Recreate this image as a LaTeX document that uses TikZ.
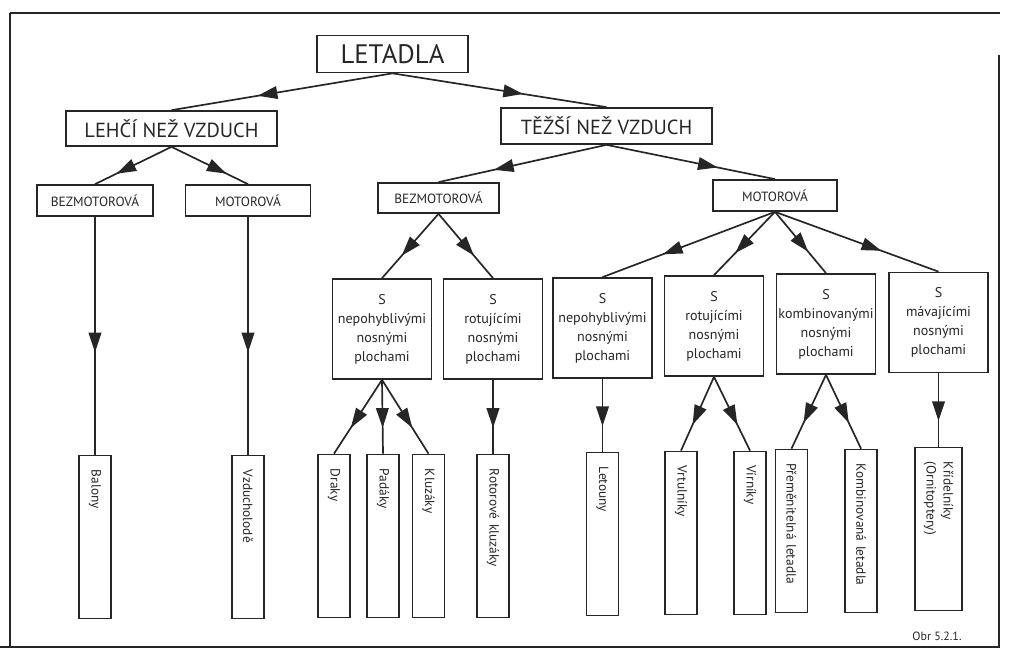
\documentclass[tikz,border=0pt]{standalone}
\usepackage{fontspec}
\setmainfont{PT Sans}
\usepackage{tikz}
\usetikzlibrary{arrows.meta}
\usetikzlibrary{decorations.markings}

\begin{document}
\begin{tikzpicture}[x=0.025cm,y=-0.025cm,color=black!85,line width=1.2pt,
  box/.style={draw,rectangle,inner sep=0pt},
  small/.style={box,minimum height=0.775cm,font=\fontsize{9.5}{11}\selectfont},
  plane/.style={box,align=center,minimum width=2.475cm,minimum height=2.5cm,font=\fontsize{10}{13.5}\selectfont},
  vbox/.style={box,rotate=-90,minimum width=4.075cm,minimum height=0.8cm,text width=3.35cm,inner xsep=0.3625cm,align=left,font=\fontsize{9.5}{12}\selectfont},
  arr/.style={decoration={markings,mark=at position #1 with {\arrow{Triangle[length=14pt,width=9pt]}}},postaction={decorate}},
  arr/.default=0.65]
\useasboundingbox (0,0) rectangle (1011,648);

%frame
\draw (10,13) -- (1000,13);
\draw (10,13) -- (10,648);
\draw (999,55) -- (999,648);
\draw (0,647) -- (999,647);

\node[box,minimum width=3.775cm,minimum height=0.925cm,font=\fontsize{19}{22}\selectfont] (letadla) at (392.5,54) {LETADLA};

\node[box,minimum width=5.275cm,minimum height=0.875cm,font=\fontsize{14.5}{17}\selectfont] (lehci) at (171.5,128.5) {LEHČÍ NEŽ VZDUCH};
\node[box,minimum width=5.275cm,minimum height=0.9cm,font=\fontsize{14.5}{17}\selectfont] (tezsi) at (606.5,126) {TĚŽŠÍ NEŽ VZDUCH};

\node[small,minimum width=2.9cm] (lbez) at (95,200.5) {BEZMOTOROVÁ};
\node[small,minimum width=3.125cm] (lmot) at (248,200.5) {MOTOROVÁ};
\node[small,minimum width=3.025cm,minimum height=0.75cm] (tbez) at (438.5,198) {BEZMOTOROVÁ};
\node[small,minimum width=3.1cm] (tmot) at (775,195.5) {MOTOROVÁ};

\node[plane] (bnep) at (382,329) {S\\nepohyblivými\\nosnými\\plochami};
\node[plane] (brot) at (493,329) {S\\rotujícími\\nosnými\\plochami};
\node[plane] (mnep) at (602.5,328) {S\\nepohyblivými\\nosnými\\plochami};
\node[plane] (mrot) at (714,326) {S\\rotujícími\\nosnými\\plochami};
\node[plane] (mkomb) at (826,324) {S\\kombinovanými\\nosnými\\plochami};
\node[plane] (mmav) at (938.5,322.5) {S\\mávajícími\\nosnými\\plochami};

\node[vbox] (balony) at (95,537) {Balony};
\node[vbox] (vzduch) at (248,537) {Vzducholodě};
\node[vbox] (draky) at (334,536) {Draky};
\node[vbox] (padaky) at (383,536) {Padáky};
\node[vbox] (kluzaky) at (428.5,536) {Kluzáky};
\node[vbox] (rotor) at (493,536) {Rotorové kluzáky};
\node[vbox] (letouny) at (602.5,534) {Letouny};
\node[vbox] (vrtul) at (681,533) {Vrtulníky};
\node[vbox] (virnik) at (750,533) {Vírníky};
\node[vbox] (premen) at (791.5,531) {Přeměnitelná letadla};
\node[vbox] (kombin) at (861,531) {Kombinovaná letadla};
\node[vbox,minimum height=1.175cm] (kridel) at (938.5,529) {Křídelníky\\(Ornitoptery)};

\node[font=\fontsize{8.5}{10}\selectfont] (obr) at (937,636) {Obr 5.2.1.};

%arrows
\draw[arr=0.61] (letadla.south) -- (lehci.north);
\draw[arr=0.61] (letadla.south) -- (tezsi.north);
\draw[arr=0.72] (lehci.south) -- (lbez.north);
\draw[arr=0.72] (lehci.south) -- (lmot.north);
\draw[arr=0.67] (tezsi.south) -- (tbez.north);
\draw[arr=0.66] (tezsi.south) -- (tmot.north);
\draw[arr=0.57] (lbez.south) -- (balony.west);
\draw[arr=0.57] (lmot.south) -- (vzduch.west);

\foreach \n in {bnep,brot}{%
\draw[arr] (tbez.south) -- (\n.north);
}
\foreach \n in {mnep,mrot,mkomb,mmav}{%
\draw[arr] (tmot.south) -- (\n.north);
}
\foreach \n in {draky,padaky,kluzaky}{%
\draw[arr] (bnep.south) -- (\n.west);
}
\draw[arr] (brot.south) -- (rotor.west);
\draw[arr] (mnep.south) -- (letouny.west);
\foreach \n in {vrtul,virnik}{%
\draw[arr] (mrot.south) -- (\n.west);
}
\foreach \n in {premen,kombin}{%
\draw[arr] (mkomb.south) -- (\n.west);
}
\draw[arr] (mmav.south) -- (kridel.west);

\end{tikzpicture}
\end{document}
